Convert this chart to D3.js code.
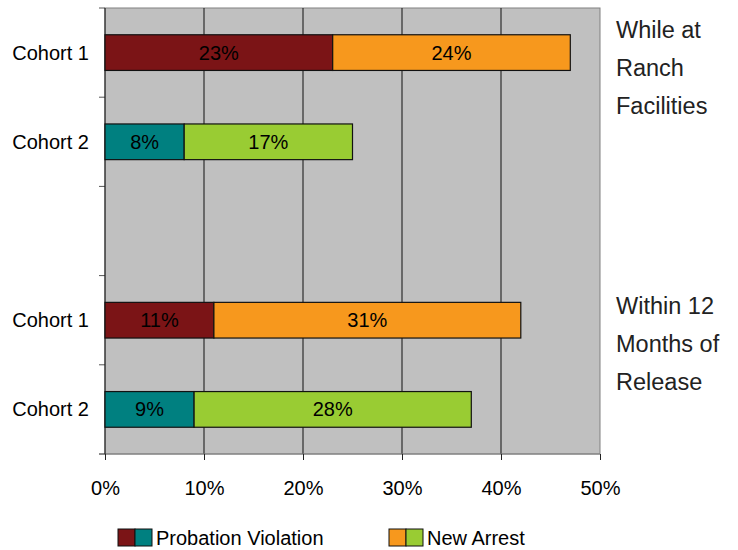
<!DOCTYPE html>
<html>
<head>
<meta charset="utf-8">
<script src="https://cdn.jsdelivr.net/npm/d3@7"></script>
<style>
  body { margin: 0; background: #ffffff; }
  text { font-family: "Liberation Sans", Arial, sans-serif; }
</style>
</head>
<body>
<div id="chart"></div>
<script>
// categories top to bottom (the blank slot separates the two periods)
const rows = ['c1a', 'c2a', 'gap', 'c1b', 'c2b'];
const rowLabels = ['Cohort 1', 'Cohort 2', '', 'Cohort 1', 'Cohort 2'];
const probation = [23, 8, null, 11, 9];
const newArrest = [24, 17, null, 31, 28];
const xTicks = [0, 10, 20, 30, 40, 50];
const groupTitles = [['While at', 'Ranch', 'Facilities'], ['Within 12', 'Months of', 'Release']];
const seriesNames = ['Probation Violation', 'New Arrest'];

// colours by row
const probColors = ['#7b1416', '#008080', null, '#7b1416', '#008080'];
const arrestColors = ['#f7981d', '#99cc33', null, '#f7981d', '#99cc33'];

const width = 738, height = 550;
const margin = { top: 8, right: 138, bottom: 96, left: 105 };
const w = width - margin.left - margin.right;
const h = height - margin.top - margin.bottom;

const svg = d3.select('#chart')
    .append('svg')
    .attr('width', width)
    .attr('height', height);

const graph = svg.append('g')
    .attr('transform', `translate(${margin.left}, ${margin.top})`);

const x = d3.scaleLinear().domain([0, 50]).range([0, w]);
const y = d3.scaleBand().domain(rows).range([0, h]).paddingInner(0.6).paddingOuter(0.3);
const yBand = d3.scaleBand().domain(rows).range([0, h]);

// plot background
graph.append('rect')
    .attr('width', w)
    .attr('height', h)
    .attr('fill', '#c0c0c0')
    .attr('stroke', '#808080')
    .attr('stroke-width', 1);

// vertical grid lines
graph.selectAll('.grid')
    .data(xTicks.slice(1, -1))
    .enter()
    .append('line')
    .attr('x1', d => x(d))
    .attr('x2', d => x(d))
    .attr('y1', 0)
    .attr('y2', h)
    .attr('stroke', '#111')
    .attr('stroke-width', 1);

// x axis
const xAxis = d3.axisBottom(x)
    .tickValues(xTicks)
    .tickFormat(d => d + '%')
    .tickSize(6)
    .tickPadding(21);

const xAxisGroup = graph.append('g')
    .attr('transform', `translate(0, ${h})`)
    .call(xAxis);
xAxisGroup.select('.domain').attr('stroke', '#808080').attr('d', `M-6,0H${w}`);
xAxisGroup.selectAll('.tick line').attr('stroke', '#222');
xAxisGroup.selectAll('.tick text')
    .attr('font-size', '20px')
    .attr('fill', '#000')
    .style('font-family', '"Liberation Sans", Arial, sans-serif');

// y axis: ticks on band edges
const edges = rows.map(r => yBand(r)).concat([h]);
graph.selectAll('.ytick')
    .data(edges)
    .enter()
    .append('line')
    .attr('x1', -6)
    .attr('x2', 0)
    .attr('y1', d => d)
    .attr('y2', d => d)
    .attr('stroke', '#555');

graph.append('line')
    .attr('x1', 0).attr('x2', 0)
    .attr('y1', 0).attr('y2', h)
    .attr('stroke', '#111');

graph.selectAll('.ylabel')
    .data(rows)
    .enter()
    .append('text')
    .attr('x', -16)
    .attr('y', d => y(d) + y.bandwidth() / 2)
    .attr('dy', '0.35em')
    .attr('text-anchor', 'end')
    .attr('font-size', '20px')
    .text((d, i) => rowLabels[i]);

// stacked bars
const barData = rows.map((r, i) => ({ r, p: probation[i], a: newArrest[i], pc: probColors[i], ac: arrestColors[i] }))
    .filter(d => d.p !== null);

const bars = graph.selectAll('.bar')
    .data(barData)
    .enter()
    .append('g');

bars.append('rect')
    .attr('x', x(0))
    .attr('y', d => y(d.r))
    .attr('width', d => x(d.p) - x(0))
    .attr('height', y.bandwidth())
    .attr('fill', d => d.pc)
    .attr('stroke', '#111')
    .attr('stroke-width', 1.2);

bars.append('rect')
    .attr('x', d => x(d.p))
    .attr('y', d => y(d.r))
    .attr('width', d => x(d.p + d.a) - x(d.p))
    .attr('height', y.bandwidth())
    .attr('fill', d => d.ac)
    .attr('stroke', '#111')
    .attr('stroke-width', 1.2);

bars.append('text')
    .attr('x', d => x(d.p / 2))
    .attr('y', d => y(d.r) + y.bandwidth() / 2)
    .attr('dy', '0.35em')
    .attr('text-anchor', 'middle')
    .attr('font-size', '20px')
    .text(d => d.p + '%');

bars.append('text')
    .attr('x', d => x(d.p + d.a / 2))
    .attr('y', d => y(d.r) + y.bandwidth() / 2)
    .attr('dy', '0.35em')
    .attr('text-anchor', 'middle')
    .attr('font-size', '20px')
    .text(d => d.a + '%');

// group titles on the right
groupTitles.forEach((lines, g) => {
    const top = g === 0 ? 38 : 314;
    svg.append('g')
        .selectAll('text')
        .data(lines)
        .enter()
        .append('text')
        .attr('x', margin.left + w + 16)
        .attr('y', (d, i) => top + i * 38)
        .attr('font-size', '23.5px')
        .attr('fill', '#222')
        .text(d => d);
});

// legend
const legendItems = [
    { name: seriesNames[0], colors: [probColors[0], probColors[1]], x: 118 },
    { name: seriesNames[1], colors: [arrestColors[0], arrestColors[1]], x: 389 }
];
const legend = svg.selectAll('.legend')
    .data(legendItems)
    .enter()
    .append('g')
    .attr('transform', d => `translate(${d.x}, 529)`);

legend.selectAll('rect')
    .data(d => d.colors)
    .enter()
    .append('rect')
    .attr('x', (d, i) => i * 17)
    .attr('y', 0)
    .attr('width', 17)
    .attr('height', 17)
    .attr('fill', d => d)
    .attr('stroke', '#111')
    .attr('stroke-width', 1);

legend.append('text')
    .attr('x', 38)
    .attr('y', 9)
    .attr('dy', '0.35em')
    .attr('font-size', '20px')
    .text(d => d.name);
</script>
</body>
</html>
